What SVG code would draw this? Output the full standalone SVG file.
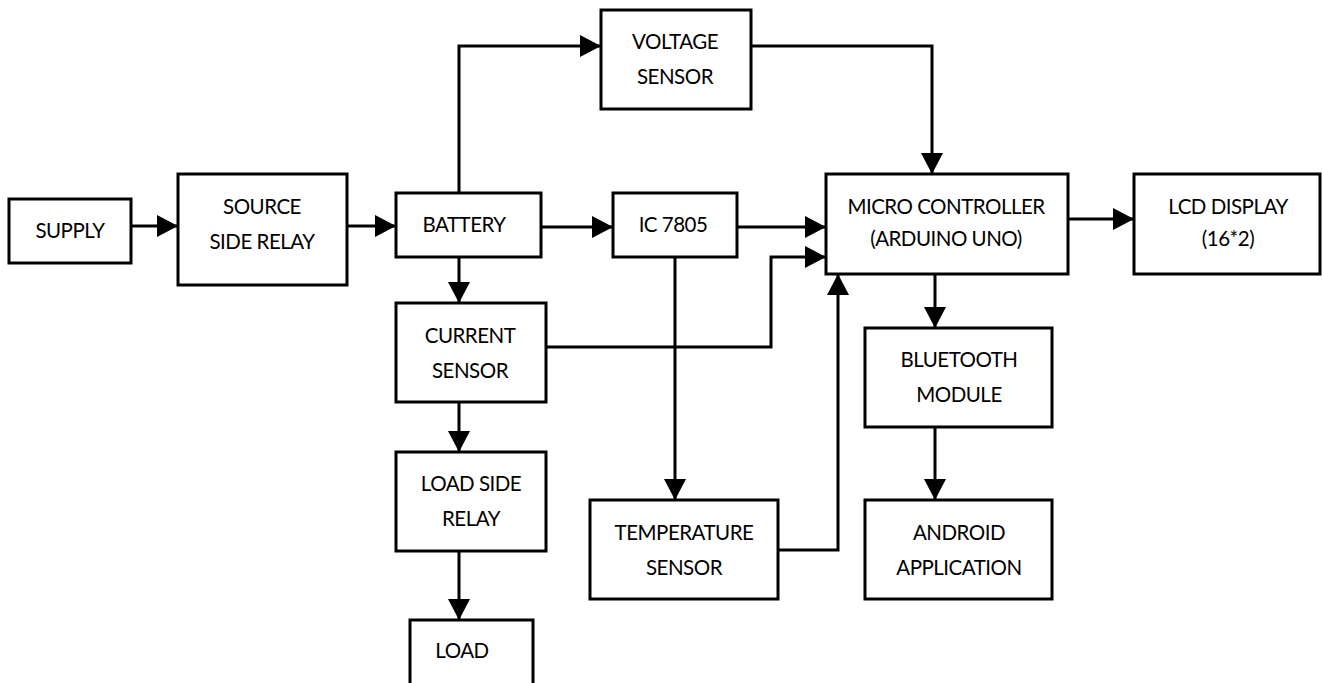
<svg xmlns="http://www.w3.org/2000/svg" width="1322" height="683" viewBox="0 0 1322 683">
<style>
rect{fill:#fff;stroke:#000;stroke-width:3}
text{font-family:Lato,"Liberation Sans",sans-serif;font-size:20.5px;letter-spacing:-0.5px;fill:#000;text-anchor:middle}
#connectors path{fill:none;stroke:#000;stroke-width:3;marker-end:url(#ah)}
</style>
<defs>
<marker id="ah" markerUnits="userSpaceOnUse" markerWidth="22" markerHeight="24" refX="21" refY="11" orient="auto">
<path d="M0,0 L21,11 L0,22 z" fill="#000"/>
</marker>
</defs>
<rect x="0" y="0" width="1322" height="683" style="stroke:none"/>
<g id="connectors">
<path d="M131,226 H178"/>
<path d="M347,226 H396"/>
<path d="M459,193 V46 H601"/>
<path d="M751,46 H932 V174"/>
<path d="M541,227 H613"/>
<path d="M737,227 H826"/>
<path d="M546,347 H771 V257 H826"/>
<path d="M675,257 V500"/>
<path d="M778,550 H838 V274"/>
<path d="M459,257 V303"/>
<path d="M459,402 V452"/>
<path d="M459,551 V620"/>
<path d="M935,274 V328"/>
<path d="M935,427 V500"/>
<path d="M1068,219 H1134"/>
</g>
<g id="supply"><rect x="9" y="199" width="122" height="64"/><text x="70" y="238">SUPPLY</text></g>
<g id="source-relay"><rect x="178" y="174" width="169" height="111"/><text x="262" y="214">SOURCE</text><text x="262" y="249">SIDE RELAY</text></g>
<g id="battery"><rect x="396" y="193" width="145" height="64"/><text x="464" y="232">BATTERY</text></g>
<g id="voltage-sensor"><rect x="601" y="10" width="150" height="99"/><text x="675" y="49">VOLTAGE</text><text x="675" y="84">SENSOR</text></g>
<g id="ic7805"><rect x="613" y="193" width="124" height="64"/><text x="673" y="232">IC 7805</text></g>
<g id="current-sensor"><rect x="396" y="303" width="150" height="99"/><text x="470" y="343">CURRENT</text><text x="470" y="378">SENSOR</text></g>
<g id="load-relay"><rect x="396" y="452" width="150" height="99"/><text x="471" y="491">LOAD SIDE</text><text x="471" y="526">RELAY</text></g>
<g id="load"><rect x="410" y="620" width="123" height="75"/><text x="462" y="658">LOAD</text></g>
<g id="temperature-sensor"><rect x="590" y="500" width="188" height="99"/><text x="684" y="540">TEMPERATURE</text><text x="684" y="575">SENSOR</text></g>
<g id="microcontroller"><rect x="826" y="174" width="242" height="100"/><text x="946" y="214">MICRO CONTROLLER</text><text x="946" y="246">(ARDUINO UNO)</text></g>
<g id="lcd"><rect x="1134" y="174" width="186" height="100"/><text x="1228" y="214">LCD DISPLAY</text><text x="1228" y="246">(16*2)</text></g>
<g id="bluetooth"><rect x="865" y="328" width="187" height="99"/><text x="959" y="367">BLUETOOTH</text><text x="959" y="402">MODULE</text></g>
<g id="android"><rect x="865" y="500" width="187" height="99"/><text x="959" y="540">ANDROID</text><text x="959" y="575">APPLICATION</text></g>
</svg>
